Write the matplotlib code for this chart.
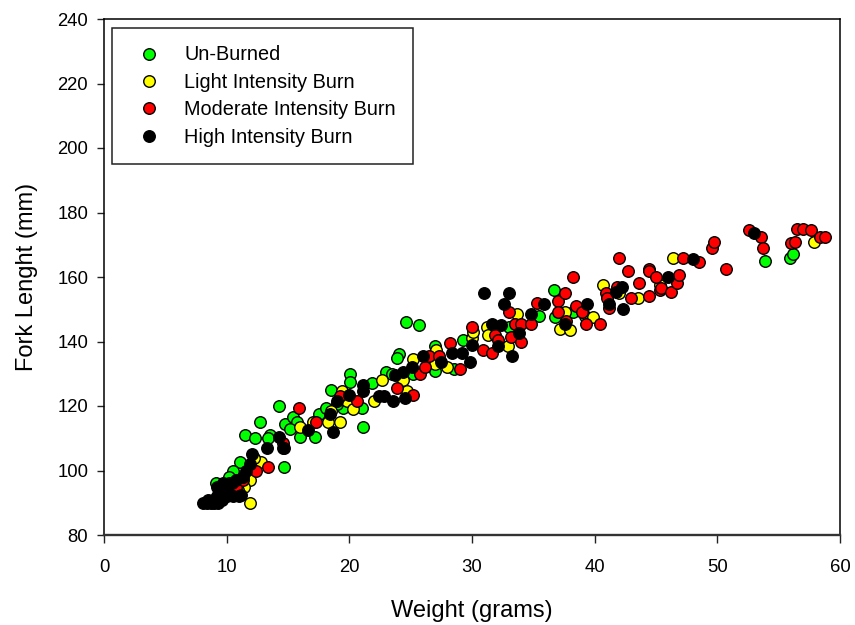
import matplotlib as mpl
mpl.use('Agg')
import matplotlib.pyplot as plt

mpl.rcParams['font.family'] = ['Liberation Sans', 'DejaVu Sans']

unburned_x = [14.3, 12.7, 11.5, 12.3, 14.7, 14.75, 13.5, 13.4, 11.1, 10.5, 9.1, 9.6, 10.2, 10.8,
              24.6, 25.7, 24.05, 23.9, 23.0, 23.5, 20.05, 20.05, 18.5, 21.85, 21.1, 15.4, 15.7, 15.2,
              16.0, 17.5, 17.2, 18.1, 21.0, 19.5, 19.0, 27.0, 27.0, 25.2, 28.5, 29.3, 33.0, 35.5,
              36.7, 36.8, 38.2, 39.2, 53.9, 55.9, 56.2]
unburned_y = [120, 115, 111, 110, 101, 114.5, 111, 110, 102.6, 100, 96, 94, 98, 96,
              146, 145, 136, 135, 130.5, 130, 130, 127.5, 125, 127, 113.5, 116.5, 115, 113,
              110.5, 117.5, 110.5, 119.5, 119.5, 119.5, 120.5, 138.5, 131, 130, 131.5, 140.5, 144.5, 148,
              156, 147.5, 149, 148, 165, 166, 167]

light_x = [11.9, 11.9, 11.4, 12.8, 12.2, 10.9, 10.4, 9.8, 16.0, 17.0, 18.3, 18.5, 19.2, 19.4, 19.8, 20.3,
           22.0, 22.7, 24.4, 24.7, 25.2, 27.0, 27.1, 28.0, 30.0, 30.1, 31.2, 31.3, 32.9, 33.7,
           37.2, 37.6, 38.0, 39.9, 40.7, 42.0, 43.5, 45.3, 46.4, 57.9]
light_y = [90, 97, 95, 102.6, 104, 94, 93, 92, 113.5, 115, 115, 118.5, 115, 124.5, 121.5, 119,
           121.5, 128, 128, 124.5, 134.5, 133, 137.5, 132, 141, 143, 144.5, 142, 138.5, 148.5,
           144, 149, 143.5, 147.5, 157.5, 155, 153.5, 157.5, 166, 171]

moderate_x = [10.2, 10.8, 11.3, 12.4, 13.4, 14.6, 14.7, 15.9, 17.3, 19.2, 20.6, 23.9, 25.2, 25.8, 26.2,
              26.5, 27.3, 28.2, 29.0, 30.0, 30.9, 31.6, 31.9, 32.1, 33.0, 33.2, 33.5, 34.0, 34.0,
              34.8, 35.3, 37.0, 37.0, 37.6, 37.7, 38.2, 38.5, 39.0, 39.3, 40.4, 40.9, 41.0, 41.2,
              41.8, 42.0, 42.7, 43.0, 43.6, 44.4, 44.4, 44.4, 45.0, 45.3, 45.4, 46.2, 46.7, 46.9,
              47.2, 48.5, 49.6, 49.7, 50.7, 52.6, 53.6, 53.7, 56.0, 56.3, 56.5, 57.0, 57.6, 58.4, 58.8]
moderate_y = [96, 95, 97, 100, 101, 108.5, 107, 119.5, 115, 123, 121.5, 125.5, 123.5, 130, 132,
              135.5, 135.5, 139.5, 131.5, 144.5, 137.5, 136.5, 142, 140.5, 149, 141.5, 145.5, 145.5, 140,
              145.5, 152, 152.5, 149, 155, 146.5, 160, 151, 149, 145.5, 145.5, 155, 153.5, 150.5,
              157, 166, 162, 153.5, 158, 162.5, 162, 154, 160, 156, 156.5, 155.5, 158, 160.5,
              166, 164.5, 169, 171, 162.5, 174.5, 172.5, 169, 170.5, 171, 175, 175, 174.5, 172.5, 172.5]

high_x = [8.1, 8.4, 8.7, 9.0, 9.3, 9.6, 8.5, 8.9, 9.2, 9.6, 10.0, 10.5, 11.0, 11.2, 9.4, 9.8, 10.0, 9.2,
          9.7, 10.4, 10.8, 11.3, 11.6, 11.9, 12.1, 13.3, 14.3, 14.6, 16.6, 18.4, 18.7, 19.0, 20.0, 21.1,
          21.1, 22.4, 22.8, 23.6, 23.7, 24.4, 24.5, 25.1, 26.0, 27.5, 28.4, 29.2, 29.8, 30.0, 31.0, 31.6,
          32.1, 32.4, 32.6, 33.0, 33.3, 33.8, 34.8, 35.9, 37.6, 39.4, 41.2, 41.7, 42.2, 42.3, 46.0, 48.0, 53.0]
high_y = [90, 90, 90, 90, 90, 91, 91, 91, 92, 92, 92, 92, 92, 92.5, 94, 94, 95, 95,
          96, 96, 97, 98, 100, 102, 105, 107, 110.5, 107, 112.5, 117.5, 112, 121.5, 123.5, 126.5,
          124.5, 123, 123, 121.5, 129.5, 130.5, 122.5, 132, 135.5, 133.5, 136.5, 136.5, 133.5, 139, 155, 145.5,
          138.5, 145, 151.5, 155, 135.5, 142.5, 148.5, 151.5, 145.5, 151.5, 151.5, 155.5, 157, 150, 160, 165.5, 173.5]

series = [(unburned_x, unburned_y, '#00ff00', 'Un-Burned'),
          (light_x, light_y, '#ffff00', 'Light Intensity Burn'),
          (moderate_x, moderate_y, '#ff0000', 'Moderate Intensity Burn'),
          (high_x, high_y, '#000000', 'High Intensity Burn')]

fig = plt.figure(figsize=(8.55, 6.25), dpi=100)
ax = fig.add_axes([104 / 855, 1 - 535 / 625, 736 / 855, 516 / 625])

for x, y, color, label in series:
    ax.plot(x, y, linestyle='none', marker='o', markersize=8.3, markerfacecolor=color,
            markeredgecolor='black', markeredgewidth=1.0, label=label, clip_on=False)

ax.set_xlim(0, 60)
ax.set_ylim(80, 240)
ax.set_xticks(range(0, 61, 10))
ax.set_yticks(range(80, 241, 20))
ax.tick_params(direction='out', length=5.4, width=1.0, labelsize=13.3, color='#222222')
ax.tick_params(axis='x', pad=12)
ax.tick_params(axis='y', pad=6)
for side in ax.spines:
    ax.spines[side].set_linewidth(1.1)
ax.spines['bottom'].set_linewidth(1.7)
ax.spines['bottom'].set_color('#333333')

ax.set_xlabel('Weight (grams)', fontsize=17, labelpad=17.5)
ax.set_ylabel('Fork Lenght (mm)', fontsize=17, labelpad=14)

leg = ax.legend(loc='upper left', bbox_to_anchor=(8 / 736, 1 - 9 / 516), borderaxespad=0, fontsize=14.3,
                fancybox=False, framealpha=1, edgecolor='#222222', markerscale=1.0,
                labelspacing=0.42, handletextpad=0.75, borderpad=0.88, handlelength=2.0)
leg.get_frame().set_linewidth(1.1)

fig.savefig('out.png', dpi=100)
